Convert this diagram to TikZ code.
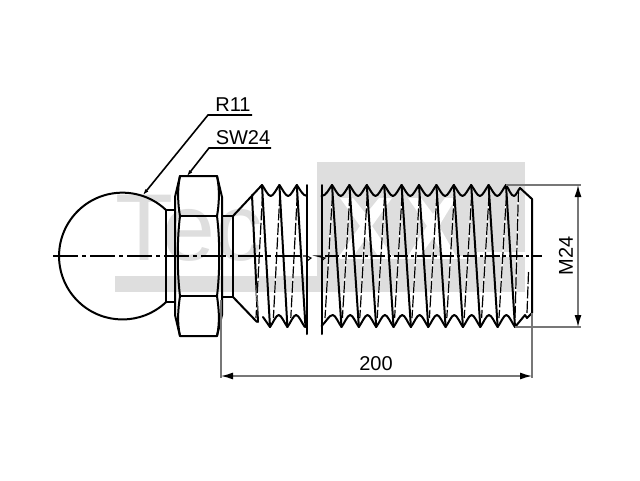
\documentclass[tikz,border=0pt]{standalone}
\usepackage{fontspec}
\setmainfont{Liberation Sans}
\usetikzlibrary{arrows.meta}
\definecolor{wm}{HTML}{DEDEDE}
\definecolor{dimgrey}{HTML}{777777}
\tikzset{
  outline/.style={black,line width=2pt,line join=round,line cap=round},
  thick thread/.style={black,line width=2pt,line cap=round},
  hidden under/.style={white,line width=1.6pt},
  hidden thread/.style={black,line width=1.2pt,dash pattern=on 12pt off 2.5pt},
  axis line/.style={black,line width=1.1pt},
  dimline/.style={dimgrey,line width=1.3pt},
  leader/.style={black,line width=1.6pt},
  label/.style={black,inner sep=0pt,font=\fontsize{20}{22}\selectfont},
}
\begin{document}
\begin{tikzpicture}[x=1pt,y=-1pt]
\useasboundingbox (0,0) rectangle (640,480);
\fill[white] (0,0) rectangle (640,480);
% watermark
\node[anchor=base west,inner sep=0pt,text=wm,font=\fontsize{95}{95}\selectfont] (wmtext) at (115,260) {Tec};
\fill[wm] (115,276) rectangle (525,292);
\fill[wm] (317,162) rectangle (525,292);
\fill[white] (340,198) -- (353,198) -- (366,214) -- (379,198) -- (392,198) -- (372,226) -- (392,256) -- (378,256) -- (366,238) -- (352,258) -- (338,258) -- (360,226) -- cycle;
\fill[white] (408,198) -- (421,198) -- (433,214) -- (445,198) -- (456,198) -- (439,226) -- (456,256) -- (445,258) -- (433,238) -- (420,256) -- (408,256) -- (427,226) -- cycle;
\fill[white] (340,256) rectangle (470,259);
\fill[white] (477,252) rectangle (525,257);
% ball
\draw[outline] (166,210) arc[start angle=-46.6,end angle=-313.4,radius=63.4];
\draw[outline] (166,210) -- (175,210) (166,302) -- (175,302) (166,210) -- (166,302);
% hexagon
\draw[outline] (180,176) -- (217,176) -- (222,197) -- (222,315) -- (217,336) -- (180,336) -- (175,315) -- (175,197) -- cycle;
\draw[outline] (180,216) -- (217,216) (180,296) -- (217,296);
\draw[outline] (180,176) .. controls (177,190) and (178,205) .. (180,216) .. controls (177,240) and (177,272) .. (180,296) .. controls (178,310) and (177,322) .. (180,336);
\draw[outline] (217,176) .. controls (220,190) and (219,205) .. (217,216) .. controls (220,240) and (220,272) .. (217,296) .. controls (219,310) and (220,322) .. (217,336);
% neck and cone
\draw[outline] (222,216) -- (233,216) -- (233,297) -- (222,297);
\draw[outline] (233,216) -- (262,185);
\draw[outline] (233,297) -- (257,322);
\draw[thick thread] (252,195) -- (258,322);
% hidden thread lines (left part)
\foreach \c in {262,279.4,296.8}{
  \draw[hidden under] (\c+0.5,194) -- (\c-6,318);
  \draw[hidden thread] (\c+0.5,194) -- (\c-6,318);
}
% hidden thread lines (right part)
\foreach \j in {0,...,10}{
  \pgfmathsetmacro{\c}{332+17.4*\j}
  \draw[hidden under] (\c+0.5,194) -- (\c-7,318);
  \draw[hidden thread] (\c+0.5,194) -- (\c-7,318);
}
\draw[hidden under] (518.5,190) -- (515,318);
\draw[hidden thread] (518.5,190) -- (515,318);
\draw[hidden under] (528.5,272) -- (527,313);
\draw[hidden thread] (528.5,272) -- (527,313);
% centre line
\draw[axis line,dash pattern=on 25pt off 4pt on 4pt off 4pt] (53,256) -- (303,256);
\draw[axis line,dash pattern=on 14pt off 3pt on 3pt off 3pt] (325,256) -- (542,256);
\draw[axis line] (303,256) -- (307,256) -- (311,258) -- (307,261);
\draw[axis line] (321.5,256) -- (317,256) -- (325,258) -- (321.5,261);
% solid thread lines
\draw[thick thread] (262,185) -- (270,327);
\draw[thick thread] (279.4,185) -- (287.4,327);
\draw[thick thread] (296.8,185) -- (305.5,327);
\foreach \j in {0,...,10}{
  \pgfmathsetmacro{\c}{332+17.4*\j}
  \pgfmathsetmacro{\d}{341.5+17.35*\j}
  \draw[thick thread] (\c,185) -- (\d,327);
}
% thread profile top
\foreach \c in {262,279.4}{
  \draw[outline] (\c,185) .. controls (\c+3,189) and (\c+6,196) .. (\c+8.7,196) .. controls (\c+11.4,196) and (\c+14.4,189) .. (\c+17.4,185);
}
\draw[outline] (296.8,185) .. controls (299.8,189) and (302.8,196) .. (307,196);
\draw[outline] (321.5,196) .. controls (326,196) and (329,189) .. (332,185);
\foreach \j in {0,...,9}{
  \pgfmathsetmacro{\c}{332+17.4*\j}
  \draw[outline] (\c,185) .. controls (\c+3,189) and (\c+6,196) .. (\c+8.7,196) .. controls (\c+11.4,196) and (\c+14.4,189) .. (\c+17.4,185);
}
\draw[outline] (506,185) .. controls (509,189) and (511,196) .. (514,196) .. controls (516,196) and (518,190) .. (520,188) -- (532,199) -- (532,313) -- (527,318) -- (525,315) -- (515,327);
% thread profile bottom
\draw[outline] (263,317) -- (270,327);
\foreach \d in {270,287.4}{
  \draw[outline] (\d,327) .. controls (\d+3,323) and (\d+6,315) .. (\d+8.7,315) .. controls (\d+11.4,315) and (\d+14.4,323) .. (\d+17.4,327);
}
\draw[outline] (321.5,326) .. controls (326,322) and (329,315) .. (332.8,315) .. controls (335.5,315) and (338.5,323) .. (341.5,327);
\foreach \j in {0,...,9}{
  \pgfmathsetmacro{\d}{341.5+17.35*\j}
  \draw[outline] (\d,327) .. controls (\d+3,323) and (\d+6,315) .. (\d+8.7,315) .. controls (\d+11.4,315) and (\d+14.4,323) .. (\d+17.35,327);
}
% break lines
\draw[outline] (307,185) -- (307,334);
\draw[outline] (321.5,185) -- (321.5,334);
% extension lines and dimensions
\coordinate (e200a) at (221,300);
\coordinate (e200b) at (221,378);
\coordinate (e200c) at (532,313);
\coordinate (e200d) at (532,378);
\coordinate (d200a) at (221,376);
\coordinate (d200b) at (532,376);
\coordinate (em24a) at (506,185);
\coordinate (em24b) at (581,185);
\coordinate (em24c) at (515,327);
\coordinate (em24d) at (581,327);
\coordinate (dm24a) at (578,185);
\coordinate (dm24b) at (578,327);
\draw[dimline] (e200a) -- (e200b);
\draw[dimline] (e200c) -- (e200d);
\draw[dimline] (em24a) -- (em24b);
\draw[dimline] (em24c) -- (em24d);
\draw[dimline,{Latex[length=12pt,width=7pt,black]}-{Latex[length=12pt,width=7pt,black]}] (d200a) -- (d200b);
\draw[dimline,{Latex[length=12pt,width=7pt,black]}-{Latex[length=12pt,width=7pt,black]}] (dm24a) -- (dm24b);
\node[label] (l200) at (376,364) {200};
\node[label,rotate=90] (lm24) at (566,256) {M24};
% leaders
\node[label] (lr11) at (233,105) {R11};
\node[label] (lsw) at (243,138) {SW24};
\coordinate (r1) at (252,115);
\coordinate (r2) at (208,115);
\coordinate (r3) at (143,195);
\coordinate (s1) at (271,148);
\coordinate (s2) at (209,148);
\coordinate (s3) at (187,176);
\draw[leader,-{Latex[length=6pt,width=4pt]}] (r1) -- (r2) -- (r3);
\draw[leader,-{Latex[length=6pt,width=4pt]}] (s1) -- (s2) -- (s3);
\end{tikzpicture}
\end{document}
